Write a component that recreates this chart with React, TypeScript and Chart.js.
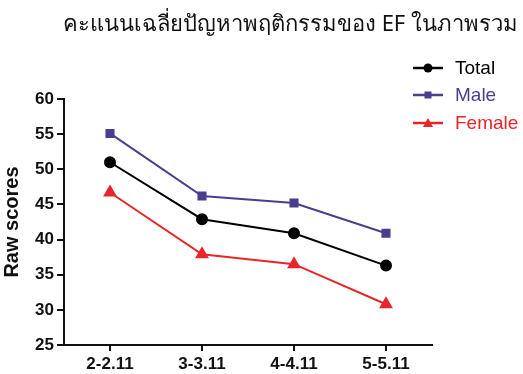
import React, { useEffect, useRef } from "react";
import { Chart, registerables } from "chart.js";
Chart.register(...registerables);

const categories = ["2-2.11", "3-3.11", "4-4.11", "5-5.11"];
const totalValues = [51.0, 42.9, 40.9, 36.3];
const maleValues = [55.1, 46.2, 45.2, 40.9];
const femaleValues = [46.7, 37.9, 36.5, 30.8];
const titleText = "คะแนนเฉลี่ยปัญหาพฤติกรรมของ EF ในภาพรวม";
const yTitle = "Raw scores";

const legendPlugin = {
  id: "customLegend",
  afterDraw(chart: any) {
    const ctx = chart.ctx;
    ctx.save();
    ctx.fillStyle = "#111";
    ctx.font = "22px 'Noto Sans', 'DejaVu Sans', sans-serif";
    ctx.textAlign = "right";
    ctx.textBaseline = "middle";
    ctx.fillText(titleText, 518, 25);
    const rows = [68, 95, 123];
    chart.data.datasets.forEach((ds: any, i: number) => {
      const y = rows[i];
      ctx.strokeStyle = ds.borderColor;
      ctx.lineWidth = 2.5;
      ctx.beginPath();
      ctx.moveTo(413, y);
      ctx.lineTo(443, y);
      ctx.stroke();
      ctx.fillStyle = ds.borderColor;
      ctx.beginPath();
      if (ds.pointStyle === "circle") {
        ctx.arc(428, y, 4.5, 0, Math.PI * 2);
      } else if (ds.pointStyle === "rect") {
        ctx.rect(428 - 3.5, y - 3.5, 7, 7);
      } else {
        ctx.moveTo(428, y - 5);
        ctx.lineTo(428 + 5, y + 4);
        ctx.lineTo(428 - 5, y + 4);
        ctx.closePath();
      }
      ctx.fill();
      ctx.font = "19px 'Liberation Sans', Arial, sans-serif";
      ctx.textAlign = "left";
      ctx.fillText(ds.label, 455, y + 1);
    });
    ctx.restore();
  },
};

export default function App() {
  const ref = useRef<HTMLCanvasElement>(null);
  useEffect(() => {
    document.body.style.margin = "0";
    const tickFont = { family: "'Liberation Sans', Arial, sans-serif", size: 17, weight: "bold" as const };
    const chart = new Chart(ref.current!, {
      type: "line",
      data: {
        labels: categories,
        datasets: [
          {
            label: "Total",
            data: totalValues,
            borderColor: "#000000",
            backgroundColor: "#000000",
            pointStyle: "circle",
            pointRadius: 5,
            borderWidth: 2,
          },
          {
            label: "Male",
            data: maleValues,
            borderColor: "#4b3d8f",
            backgroundColor: "#4b3d8f",
            pointStyle: "rect",
            pointRadius: 5,
            borderWidth: 2,
          },
          {
            label: "Female",
            data: femaleValues,
            borderColor: "#e8262a",
            backgroundColor: "#e8262a",
            pointStyle: "triangle",
            pointRadius: 6,
            borderWidth: 2,
          },
        ],
      },
      options: {
        responsive: false,
        animation: false,
        layout: { padding: { top: 99, right: 91, left: 0, bottom: 0 } },
        plugins: {
          legend: { display: false },
          title: { display: false },
          tooltip: { enabled: false },
        },
        scales: {
          x: {
            offset: true,
            grid: {
              offset: false,
              drawOnChartArea: false,
              drawTicks: true,
              tickLength: 6,
              color: "#111",
              lineWidth: 2,
            },
            border: { color: "#111", width: 2 },
            ticks: { color: "#111", padding: 3, font: tickFont },
            afterFit(scale: any) {
              scale.height = 29;
            },
          },
          y: {
            min: 25,
            max: 60,
            ticks: { stepSize: 5, color: "#111", padding: 3, font: tickFont },
            grid: {
              drawOnChartArea: false,
              drawTicks: true,
              tickLength: 7,
              color: "#111",
              lineWidth: 2,
            },
            border: { color: "#111", width: 2 },
            title: {
              display: true,
              text: yTitle,
              color: "#111",
              padding: { top: 0, bottom: 2 },
              font: { family: "'Liberation Sans', Arial, sans-serif", size: 20, weight: "bold" },
            },
            afterFit(scale: any) {
              scale.width = 64;
            },
          },
        },
      },
      plugins: [legendPlugin],
    });
    return () => chart.destroy();
  }, []);
  return (
    <div style={{ width: 523, height: 374, background: "#fff" }}>
      <canvas ref={ref} width={523} height={374} style={{ display: "block" }} />
    </div>
  );
}
